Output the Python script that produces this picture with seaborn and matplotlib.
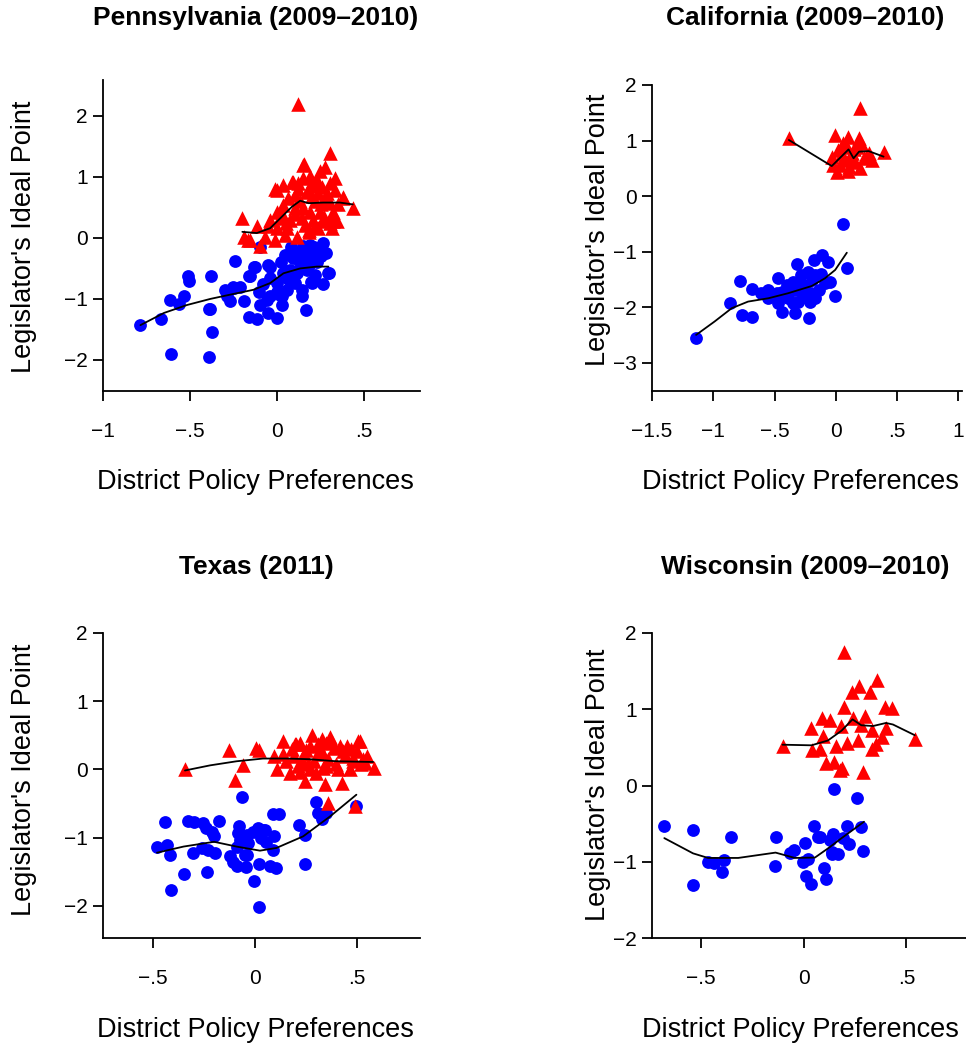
"""
Legislator ideal points vs district policy preferences, four states.
"""

import pandas as pd
import matplotlib
matplotlib.use("Agg")
import matplotlib.pyplot as plt
import seaborn as sns

# ---- data ----
PA_DEM = [(-0.785, -1.43), (-0.665, -1.33), (-0.617, -1.02), (-0.566, -1.08), (-0.533, -0.95),
          (-0.514, -0.63), (-0.508, -0.70), (-0.378, -0.62), (-0.39, -1.16), (-0.374, -1.54),
          (-0.607, -1.90), (-0.394, -1.95), (-0.24, -0.38), (-0.288, -0.96), (-0.27, -1.04),
          (-0.25, -0.82), (-0.212, -0.80), (-0.193, -1.04), (-0.164, -1.29), (-0.117, -1.33),
          (-0.155, -0.63), (-0.132, -0.48), (-0.107, -0.88), (-0.097, -1.10), (-0.05, -1.23),
          (-0.002, -1.32), (-0.044, -0.47), (-0.04, -0.66), (-0.002, -0.74), (0.027, -0.96),
          (-0.04, -0.96), (0.036, -0.58), (0.046, -0.28), (0.075, -0.52), (0.093, -0.33),
          (0.103, -0.74), (0.151, -0.14), (0.189, -0.11), (0.132, -0.41), (0.17, -0.52),
          (0.141, -0.85), (0.141, -0.96), (0.166, -1.18), (0.199, -0.74), (0.227, -0.39),
          (0.237, -0.22), (0.262, -0.08), (0.265, -0.76), (0.294, -0.58), (0.208, -0.28),
          (0.113, -0.58), (0.055, -0.85), (-0.002, -0.88), (-0.10, -0.15), (-0.05, -0.44),
          (-0.13, -0.47), (0.30, -0.58), (0.193, -0.72), (-0.06, -1.02), (0.017, -0.93),
          (0.093, -0.63), (-0.30, -0.85), (-0.254, -0.81), (-0.164, -0.63), (-0.384, -1.17),
          (0.02, -0.40), (0.06, -0.68), (0.12, -0.25), (0.18, -0.45), (0.22, -0.60),
          (0.25, -0.30), (0.08, -0.15), (0.16, -0.30), (0.21, -0.15), (-0.08, -0.75),
          (0.03, -1.10), (0.28, -0.25)]
PA_REP = [(0.118, 2.19), (0.304, 1.39), (0.151, 1.20), (0.275, 1.17), (0.243, 1.09),
          (0.332, 0.98), (0.189, 1.01), (0.151, 0.98), (0.084, 0.91), (0.036, 0.87),
          (-0.002, 0.79), (0.122, 0.90), (0.208, 0.87), (0.256, 0.84), (0.304, 0.90),
          (0.332, 0.79), (0.103, 0.70), (0.17, 0.76), (0.237, 0.73), (0.285, 0.73),
          (0.38, 0.65), (0.434, 0.49), (0.304, 0.58), (0.218, 0.60), (0.036, 0.54),
          (0.103, 0.49), (0.151, 0.49), (0.189, 0.43), (0.246, 0.43), (0.323, 0.43),
          (-0.002, 0.43), (-0.04, 0.30), (0.017, 0.32), (0.075, 0.30), (0.141, 0.32),
          (0.208, 0.30), (0.265, 0.27), (0.304, 0.24), (0.342, 0.27), (-0.20, 0.32),
          (-0.117, 0.19), (-0.05, 0.19), (-0.002, 0.16), (0.055, 0.16), (0.18, 0.13),
          (0.237, 0.16), (0.313, 0.16), (-0.193, 0.02), (-0.155, -0.03), (-0.097, -0.14),
          (-0.011, -0.03), (-0.069, 0.02), (0.113, 0.02), (0.046, 0.05), (-0.17, -0.03),
          (0.376, 0.67), (0.155, 1.22), (0.18, 0.10), (0.32, 0.27), (0.06, 0.65),
          (0.13, 0.60), (0.20, 0.68), (0.25, 0.55), (0.28, 0.62), (0.10, 0.40),
          (0.16, 0.22), (0.22, 0.20), (0.05, 0.25), (0.27, 0.35), (0.35, 0.55),
          (0.12, 0.80), (0.19, 0.85), (0.23, 0.95), (0.03, 0.40), (-0.01, 0.81), (0.093, 0.92)]
PA_DEM_FIT_X = [-0.785, -0.65, -0.518, -0.384, -0.27, -0.136, -0.04, 0.036, 0.132, 0.227, 0.294]
PA_DEM_FIT_Y = [-1.43, -1.23, -1.10, -1.00, -0.93, -0.85, -0.74, -0.58, -0.50, -0.47, -0.47]
PA_REP_FIT_X = [-0.20, -0.117, -0.04, 0.017, 0.084, 0.132, 0.18, 0.265, 0.36, 0.434]
PA_REP_FIT_Y = [0.10, 0.08, 0.16, 0.32, 0.51, 0.61, 0.57, 0.58, 0.58, 0.55]

CA_DEM = [(0.057, -0.50), (-1.14, -2.55), (-0.86, -1.93), (-0.78, -1.53), (-0.765, -2.14),
          (-0.68, -2.17), (-0.68, -1.68), (-0.607, -1.75), (-0.55, -1.69), (-0.557, -1.84),
          (-0.47, -1.48), (-0.48, -1.75), (-0.47, -1.93), (-0.44, -2.08), (-0.33, -2.11),
          (-0.22, -2.20), (-0.32, -1.23), (-0.347, -1.54), (-0.33, -1.69), (-0.39, -1.84),
          (-0.347, -1.93), (-0.28, -1.42), (-0.23, -1.36), (-0.17, -1.42), (-0.265, -1.60),
          (-0.265, -1.81), (-0.21, -1.90), (-0.18, -1.15), (-0.115, -1.06), (-0.066, -1.18),
          (-0.14, -1.69), (-0.17, -1.83), (-0.088, -1.57), (-0.046, -1.54), (-0.01, -1.80),
          (0.09, -1.30), (-0.197, -1.51), (-0.40, -1.60), (-0.44, -1.72), (-0.306, -1.90),
          (-0.25, -1.70), (-0.30, -1.60), (-0.12, -1.40), (-0.38, -1.70), (-0.20, -1.75)]
CA_REP = [(0.20, 1.58), (-0.383, 1.04), (-0.005, 1.10), (0.098, 1.07), (0.19, 1.04),
          (-0.033, 0.71), (0.022, 0.83), (0.09, 0.89), (0.172, 0.89), (0.207, 0.95),
          (0.13, 0.77), (0.268, 0.77), (0.295, 0.65), (0.39, 0.80), (0.008, 0.44),
          (0.035, 0.56), (0.104, 0.53), (0.20, 0.50), (0.071, 0.65), (0.158, 0.62),
          (0.227, 0.68), (-0.019, 0.56), (0.05, 0.75), (0.12, 0.70), (0.15, 0.85),
          (0.06, 0.95), (0.25, 0.70), (0.10, 0.45)]
CA_DEM_FIT_X = [-1.14, -0.99, -0.85, -0.716, -0.55, -0.39, -0.197, -0.088, -0.005, 0.09]
CA_DEM_FIT_Y = [-2.50, -2.26, -2.02, -1.90, -1.84, -1.75, -1.62, -1.48, -1.33, -1.02]
CA_REP_FIT_X = [-0.383, -0.033, 0.104, 0.145, 0.19, 0.268, 0.39]
CA_REP_FIT_Y = [1.01, 0.54, 0.84, 0.68, 0.80, 0.81, 0.71]

TX_DEM = [(-0.062, -0.40), (-0.44, -0.77), (-0.327, -0.76), (-0.30, -0.77), (-0.253, -0.78),
          (-0.175, -0.75), (-0.24, -0.86), (-0.212, -0.91), (-0.20, -0.97), (-0.48, -1.13),
          (-0.433, -1.10), (-0.417, -1.26), (-0.305, -1.22), (-0.26, -1.15), (-0.23, -1.18),
          (-0.196, -1.22), (-0.077, -0.83), (-0.082, -0.93), (-0.074, -1.03), (-0.09, -1.13),
          (-0.12, -1.27), (-0.106, -1.35), (-0.087, -1.41), (-0.044, -1.43), (-0.04, -1.26),
          (-0.033, -1.08), (-0.008, -0.91), (0.016, -0.86), (0.049, -0.88), (0.028, -1.00),
          (0.057, -1.07), (0.093, -0.97), (0.09, -1.18), (0.021, -1.38), (0.074, -1.41),
          (0.103, -1.45), (-0.005, -1.63), (0.021, -2.02), (0.087, -0.65), (0.12, -0.65),
          (0.217, -0.82), (0.245, -0.96), (0.245, -1.38), (0.30, -0.48), (0.31, -0.64),
          (0.327, -0.73), (0.35, -0.64), (0.495, -0.54), (-0.347, -1.53), (-0.237, -1.50),
          (-0.41, -1.77), (-0.04, -0.96), (0.04, -0.89), (-0.05, -1.25)]
TX_REP = [(-0.343, 0.01), (-0.126, 0.29), (-0.06, 0.07), (-0.098, -0.15), (0.005, 0.32),
          (0.021, 0.29), (0.093, 0.20), (0.139, 0.42), (0.11, 0.01), (0.17, -0.05),
          (0.196, 0.37), (0.22, 0.39), (0.278, 0.50), (0.25, 0.29), (0.19, 0.20),
          (0.23, 0.12), (0.245, -0.17), (0.31, 0.37), (0.35, 0.39), (0.368, 0.47),
          (0.327, 0.25), (0.387, 0.32), (0.43, 0.27), (0.45, 0.34), (0.507, 0.42),
          (0.50, 0.27), (0.48, 0.17), (0.335, 0.02), (0.30, -0.05), (0.27, 0.00),
          (0.41, 0.00), (0.466, 0.00), (0.53, 0.15), (0.583, 0.02), (0.343, -0.22),
          (0.425, -0.20), (0.22, -0.03), (0.155, 0.12), (0.36, -0.49), (0.49, -0.53),
          (0.204, 0.38), (0.515, 0.42), (0.54, 0.10), (0.18, 0.30), (0.24, 0.22),
          (0.29, 0.12), (0.32, 0.30), (0.36, 0.15), (0.40, 0.08), (0.44, 0.20),
          (0.38, 0.40), (0.27, 0.35), (0.21, 0.05), (0.33, 0.45), (0.47, 0.30),
          (0.52, 0.08), (0.42, 0.35), (0.14, 0.22), (0.26, 0.08), (0.31, 0.22),
          (0.35, 0.05), (0.48, 0.12), (0.55, 0.20)]
TX_DEM_FIT_X = [-0.48, -0.35, -0.20, -0.09, 0.025, 0.106, 0.237, 0.368, 0.498]
TX_DEM_FIT_Y = [-1.22, -1.13, -1.06, -1.13, -1.19, -1.15, -0.98, -0.69, -0.37]
TX_REP_FIT_X = [-0.343, -0.22, -0.09, 0.04, 0.155, 0.27, 0.40, 0.58]
TX_REP_FIT_Y = [-0.015, 0.06, 0.12, 0.16, 0.16, 0.15, 0.12, 0.11]

WI_DEM = [(-0.68, -0.53), (-0.54, -0.59), (-0.356, -0.67), (-0.138, -0.68), (0.146, -0.05),
          (0.26, -0.17), (0.05, -0.53), (0.21, -0.53), (0.277, -0.55), (0.067, -0.68),
          (0.143, -0.63), (0.127, -0.71), (0.19, -0.69), (0.22, -0.77), (0.29, -0.86),
          (0.005, -0.75), (-0.047, -0.85), (-0.068, -0.89), (0.02, -0.96), (-0.003, -1.00),
          (0.135, -0.90), (0.164, -0.90), (-0.467, -1.00), (-0.437, -1.02), (-0.39, -0.98),
          (-0.40, -1.13), (-0.14, -1.06), (0.10, -1.08), (0.106, -1.22), (0.01, -1.19),
          (0.037, -1.29), (-0.54, -1.30), (0.078, -0.67), (0.135, -0.87)]
WI_REP = [(0.195, 1.75), (0.355, 1.39), (0.27, 1.31), (0.235, 1.22), (0.32, 1.22),
          (0.195, 1.03), (0.395, 1.03), (0.43, 1.02), (0.09, 0.89), (0.127, 0.86),
          (0.24, 0.89), (0.30, 0.91), (0.18, 0.78), (0.28, 0.80), (0.034, 0.75),
          (0.33, 0.73), (0.40, 0.75), (0.093, 0.65), (0.265, 0.60), (0.38, 0.63),
          (0.54, 0.61), (-0.10, 0.52), (0.04, 0.47), (0.08, 0.48), (0.155, 0.52),
          (0.21, 0.56), (0.33, 0.48), (0.35, 0.54), (0.107, 0.29), (0.147, 0.31),
          (0.175, 0.20), (0.185, 0.23), (0.29, 0.18)]
WI_DEM_FIT_X = [-0.68, -0.54, -0.467, -0.32, -0.138, -0.044, 0.054, 0.12, 0.184, 0.293]
WI_DEM_FIT_Y = [-0.69, -0.89, -0.95, -0.95, -0.88, -0.95, -0.945, -0.82, -0.69, -0.475]
WI_REP_FIT_X = [-0.104, 0.037, 0.117, 0.184, 0.237, 0.28, 0.337, 0.40, 0.434, 0.54]
WI_REP_FIT_Y = [0.535, 0.527, 0.59, 0.72, 0.867, 0.79, 0.78, 0.82, 0.80, 0.66]

TITLES = ["Pennsylvania (2009\u20132010)", "California (2009\u20132010)",
          "Texas (2011)", "Wisconsin (2009\u20132010)"]
X_LABEL = "District Policy Preferences"
Y_LABEL = "Legislator's Ideal Point"

M = "\u2212"
PANELS = [
    dict(dem=PA_DEM, rep=PA_REP,
         dfit=(PA_DEM_FIT_X, PA_DEM_FIT_Y), rfit=(PA_REP_FIT_X, PA_REP_FIT_Y),
         box=(103, 420, 80, 391), xlim=(-1, 0.82), ylim=(-2.51, 2.59),
         xticks=[-1, -0.5, 0, 0.5], xlabels=[M + "1", M + ".5", "0", ".5"],
         yticks=[-2, -1, 0, 1, 2]),
    dict(dem=CA_DEM, rep=CA_REP,
         dfit=(CA_DEM_FIT_X, CA_DEM_FIT_Y), rfit=(CA_REP_FIT_X, CA_REP_FIT_Y),
         box=(652, 962, 85, 391), xlim=(-1.5, 1.03), ylim=(-3.51, 2.0),
         xticks=[-1.5, -1, -0.5, 0, 0.5, 1],
         xlabels=[M + "1.5", M + "1", M + ".5", "0", ".5", "1"],
         yticks=[-3, -2, -1, 0, 1, 2]),
    dict(dem=TX_DEM, rep=TX_REP,
         dfit=(TX_DEM_FIT_X, TX_DEM_FIT_Y), rfit=(TX_REP_FIT_X, TX_REP_FIT_Y),
         box=(103, 420, 633, 938), xlim=(-0.745, 0.81), ylim=(-2.47, 2.0),
         xticks=[-0.5, 0, 0.5], xlabels=[M + ".5", "0", ".5"],
         yticks=[-2, -1, 0, 1, 2]),
    dict(dem=WI_DEM, rep=WI_REP,
         dfit=(WI_DEM_FIT_X, WI_DEM_FIT_Y), rfit=(WI_REP_FIT_X, WI_REP_FIT_Y),
         box=(652, 966, 633, 938), xlim=(-0.74, 0.79), ylim=(-2.0, 2.0),
         xticks=[-0.5, 0, 0.5], xlabels=[M + ".5", "0", ".5"],
         yticks=[-2, -1, 0, 1, 2]),
]
# text anchors in pixels: (title x, title y, xlabel x, xlabel y, ylabel x, ylabel y)
TEXT_POS = [(256, 18, 255, 482, 24, 237), (805, 18, 800, 482, 598, 230),
            (256, 567, 255, 1030, 24, 780), (805, 567, 800, 1030, 598, 785)]

W, H = 966, 1048

sns.set_theme(style="ticks")
plt.rcParams["font.family"] = ["Liberation Sans", "DejaVu Sans"]
plt.rcParams.update({"text.color": "black", "axes.labelcolor": "black",
                     "xtick.color": "black", "ytick.color": "black"})

fig = plt.figure(figsize=(W / 100, H / 100), dpi=100)

for panel, title, (tx, ty, lx, ly, yx, yy) in zip(PANELS, TITLES, TEXT_POS):
    left, right, top, bottom = panel["box"]
    ax = fig.add_axes([left / W, 1 - bottom / H, (right - left) / W, (bottom - top) / H])

    dem = pd.DataFrame(panel["dem"], columns=["x", "y"])
    rep = pd.DataFrame(panel["rep"], columns=["x", "y"])
    sns.scatterplot(data=dem, x="x", y="y", color="#0000ff", marker="o", s=85,
                    linewidth=0, ax=ax, zorder=2, clip_on=False)
    sns.scatterplot(data=rep, x="x", y="y", color="#ff0000", marker="^", s=110,
                    linewidth=0, ax=ax, zorder=3, clip_on=False)
    for fx, fy in (panel["dfit"], panel["rfit"]):
        sns.lineplot(x=fx, y=fy, color="black", lw=1.3, sort=False,
                     estimator=None, ax=ax, zorder=4)

    ax.set_xlim(*panel["xlim"])
    ax.set_ylim(*panel["ylim"])
    ax.set_xticks(panel["xticks"])
    ax.set_xticklabels(panel["xlabels"])
    ax.set_yticks(panel["yticks"])
    ax.set_yticklabels([str(t).replace("-", M) for t in panel["yticks"]])
    ax.set_xlabel("")
    ax.set_ylabel("")
    ax.tick_params(axis="x", length=7, width=1.3, pad=15, labelsize=15)
    ax.tick_params(axis="y", length=7, width=1.3, pad=4, labelsize=15)
    for side in ("top", "right"):
        ax.spines[side].set_visible(False)
    for side in ("left", "bottom"):
        ax.spines[side].set_linewidth(1.3)
        ax.spines[side].set_color("black")

    fig.text(tx / W, 1 - ty / H, title, ha="center", va="center",
             fontsize=19, fontweight="bold")
    fig.text(lx / W, 1 - ly / H, X_LABEL, ha="center", va="center", fontsize=19.5)
    fig.text(yx / W, 1 - yy / H, Y_LABEL, ha="center", va="center",
             rotation=90, fontsize=19.5)

fig.savefig("out.png", dpi=100)
plt.close(fig)
